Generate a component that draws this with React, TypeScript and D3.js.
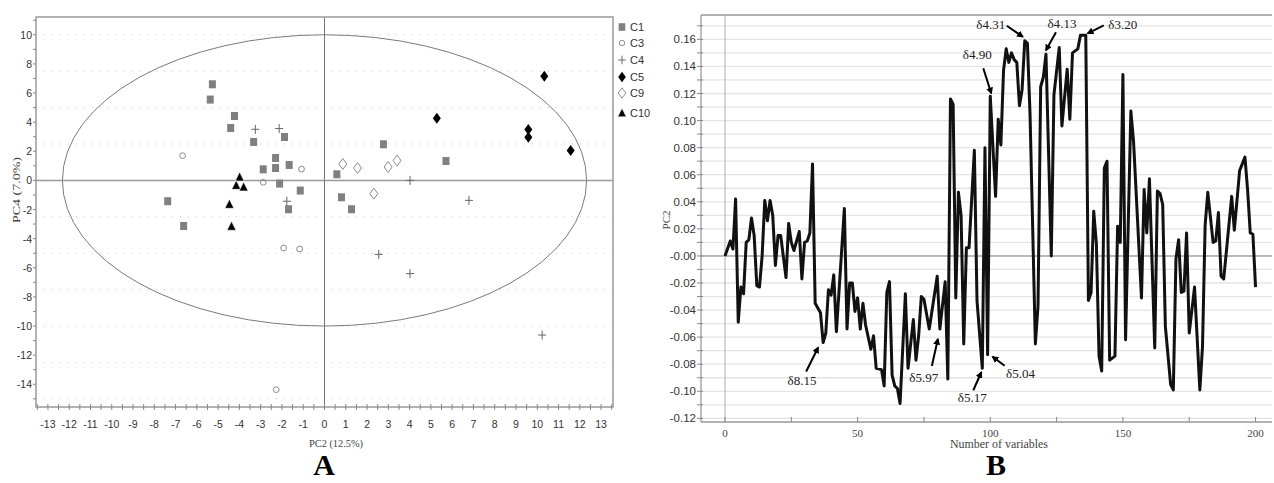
import React, { useEffect, useRef } from "react";
import * as d3 from "d3";

// ---- panel A: PCA scores (PC2 vs PC4) ----
const c1Scores = [
  [-5.27, 6.6], [-5.37, 5.55], [-4.23, 4.42], [-4.41, 3.6], [-3.33, 2.64],
  [-1.88, 2.98], [-2.3, 1.54], [-2.88, 0.76], [-2.3, 0.85], [-1.66, 1.06],
  [-2.11, -0.22], [-1.14, -0.7], [-1.69, -1.98], [-7.37, -1.43], [-6.62, -3.13],
  [2.77, 2.48], [5.71, 1.33], [0.58, 0.42], [0.8, -1.16], [1.27, -1.98],
];
const c3Scores = [[-6.67, 1.7], [-1.08, 0.78], [-2.88, -0.13], [-1.92, -4.64], [-1.17, -4.71], [-2.27, -14.37]];
const c4Scores = [[-3.25, 3.51], [-2.13, 3.56], [-1.77, -1.43], [4.02, 0.0], [6.79, -1.37], [2.55, -5.08], [4.02, -6.4], [10.23, -10.62]];
const c5Scores = [[10.33, 7.15], [5.28, 4.27], [9.58, 3.49], [9.58, 2.96], [11.57, 2.05]];
const c9Scores = [[0.86, 1.13], [1.55, 0.85], [2.99, 0.92], [3.41, 1.36], [2.32, -0.91]];
const c10Scores = [[-3.99, 0.23], [-4.15, -0.34], [-3.8, -0.45], [-4.47, -1.64], [-4.37, -3.15]];
const groupNames = ["C1", "C3", "C4", "C5", "C9", "C10"];
const ellipseRadii = [12.32, 10]; // Hotelling T2 on PC2 / PC4

// ---- panel B: PC2 loadings ----
const variableIndex = [
  0, 2, 3, 4, 5, 6, 7, 8, 9, 10,
  11, 12, 13, 14, 15, 16, 17, 18, 19, 20,
  21, 23, 24, 25, 26, 28, 29, 30, 31, 32,
  33, 34, 36, 37, 38, 39, 40, 41, 42, 45,
  46, 47, 48, 49, 50, 51, 52, 53, 55, 56,
  57, 59, 60, 61, 62, 63, 64, 65, 66, 68,
  69, 71, 72, 73, 74, 75, 77, 80, 81, 83,
  84, 85, 86, 87, 88, 89, 90, 91, 92, 94,
  95, 97, 98, 99, 100, 102, 103, 104, 105, 106,
  107, 108, 109, 110, 111, 112, 113, 114, 115, 117,
  118, 119, 120, 121, 123, 124, 126, 127, 129, 130,
  131, 133, 134, 136, 137, 138, 139, 140, 141, 142,
  143, 144, 145, 147, 148, 149, 150, 151, 153, 154,
  157, 158, 159, 160, 162, 163, 164, 165, 166, 168,
  169, 170, 171, 172, 173, 174, 175, 177, 179, 180,
  181, 182, 184, 185, 186, 187, 188, 191, 192, 194,
  196, 197, 198, 199, 200,
];
const pc2Loading = [
  0.0, 0.011, 0.005, 0.042, -0.049, -0.023, -0.028, 0.01, 0.012, 0.028,
  0.015, -0.022, -0.023, 0.0, 0.041, 0.026, 0.041, 0.03, -0.007, 0.015,
  0.015, -0.016, 0.024, 0.01, 0.004, 0.018, -0.017, 0.01, 0.011, 0.017,
  0.068, -0.035, -0.042, -0.064, -0.057, -0.025, -0.029, -0.014, -0.056, 0.035,
  -0.054, -0.02, -0.02, -0.041, -0.031, -0.054, -0.035, -0.051, -0.069, -0.059,
  -0.083, -0.084, -0.096, -0.027, -0.019, -0.088, -0.096, -0.098, -0.109, -0.028,
  -0.083, -0.047, -0.077, -0.059, -0.03, -0.032, -0.054, -0.015, -0.054, -0.019,
  -0.091, 0.116, 0.112, -0.031, 0.047, 0.03, -0.065, 0.006, 0.006, 0.078,
  -0.033, -0.083, 0.08, -0.073, 0.118, 0.044, 0.101, 0.082, 0.137, 0.153,
  0.143, 0.15, 0.145, 0.143, 0.111, 0.123, 0.159, 0.157, 0.104, -0.065,
  -0.037, 0.125, 0.132, 0.149, 0.0, 0.119, 0.154, 0.096, 0.138, 0.101,
  0.15, 0.153, 0.163, 0.163, -0.033, -0.027, 0.033, 0.009, -0.074, -0.085,
  0.065, 0.07, -0.077, -0.074, 0.022, 0.01, 0.134, -0.062, 0.107, 0.085,
  -0.031, 0.049, 0.017, 0.057, -0.068, 0.048, 0.046, 0.038, -0.052, -0.095,
  -0.099, -0.002, 0.012, -0.027, -0.026, 0.017, -0.057, -0.023, -0.099, -0.067,
  0.023, 0.047, 0.01, 0.011, 0.032, -0.015, -0.017, 0.044, 0.019, 0.063,
  0.073, 0.049, 0.017, 0.016, -0.023,
];
const yTickValues = [0.16, 0.14, 0.12, 0.1, 0.08, 0.06, 0.04, 0.02, 0, -0.02, -0.04, -0.06, -0.08, -0.1, -0.12];
const yTickLabels = ["0.16", "0.14", "0.12", "0.10", "0.08", "0.06", "0.04", "0.02", "-0.00", "-0.02", "-0.04", "-0.06", "-0.08", "-0.10", "-0.12"];
const xTickLabels = [0, 50, 100, 150, 200];

// chemical shift markers pointing at loading peaks
const peakLabels = ["δ8.15", "δ5.97", "δ5.17", "δ5.04", "δ4.90", "δ4.31", "δ4.13", "δ3.20"];
const peakVariables = [37, 81, 97, 99, 100, 113, 121, 136];

const SANS = "'Liberation Sans Narrow', 'Liberation Sans', Arial, sans-serif";
const SERIF = "'Liberation Serif', 'DejaVu Serif', serif";

// offsets (px) of arrow tip, arrow tail and label relative to the marked point
const annoLayout = [
  { tip: [-5, 5], tail: [-17, 29], text: [-21, 42] },
  { tip: [-2, 10], tail: [-8, 37], text: [-16, 53] },
  { tip: [-1, 4], tail: [-9, 22], text: [-10, 34] },
  { tip: [5, 2], tail: [17, 11], text: [33, 23] },
  { tip: [1, -3], tail: [-7, -28], text: [-13, -37] },
  { tip: [-2, -4], tail: [-18, -15], text: [-34, -12] },
  { tip: [0, -4], tail: [10, -22], text: [16, -26] },
  { tip: [2, -2], tail: [18, -10], text: [37, -6] },
];

function markerPath(kind: string) {
  switch (kind) {
    case "C1": return "M-3.5,-4H3.5V4H-3.5Z";
    case "C3": return d3.symbol(d3.symbolCircle, 26)() as string;
    case "C4": return "M-4,0H4M0,-4.5V4.5";
    case "C5":
    case "C9": return "M0,-5.5L4,0L0,5.5L-4,0Z";
    default: return "M0,-5L4.5,4L-4.5,4Z";
  }
}

function styleMarker(sel: any, kind: string) {
  if (kind === "C1") sel.attr("fill", "#808080").attr("stroke", "none");
  else if (kind === "C3") sel.attr("fill", "none").attr("stroke", "#8a8a8a").attr("stroke-width", 1);
  else if (kind === "C4") sel.attr("fill", "none").attr("stroke", "#666").attr("stroke-width", 1);
  else if (kind === "C5") sel.attr("fill", "#000").attr("stroke", "none");
  else if (kind === "C9") sel.attr("fill", "#fff").attr("stroke", "#8a8a8a").attr("stroke-width", 1);
  else sel.attr("fill", "#000").attr("stroke", "#fff").attr("stroke-width", 0.6);
}

function drawScores(svg: any) {
  const x = d3.scaleLinear().domain([-13.56, 13.56]).range([36, 613]);
  const y = d3.scaleLinear().domain([-15.56, 11.22]).range([407, 17]);
  const g = svg.append("g");
  const [x0, x1] = x.range();
  const [y0, y1] = y.range();

  g.selectAll("line.grid")
    .data(d3.range(-15, 10.01, 2.5))
    .join("line")
    .attr("x1", x0).attr("x2", x1)
    .attr("y1", (d: number) => y(d)).attr("y2", (d: number) => y(d))
    .attr("stroke", "#c4c4c4").attr("stroke-dasharray", "1,7");

  g.append("ellipse")
    .attr("cx", x(0)).attr("cy", y(0))
    .attr("rx", x(ellipseRadii[0]) - x(0)).attr("ry", y(0) - y(ellipseRadii[1]))
    .attr("fill", "none").attr("stroke", "#7a7a7a").attr("stroke-width", 1);

  g.append("line").attr("x1", x0).attr("x2", x1).attr("y1", y(0)).attr("y2", y(0))
    .attr("stroke", "#9a9a9a").attr("stroke-width", 1.5);
  g.append("line").attr("x1", x(0)).attr("x2", x(0)).attr("y1", y1).attr("y2", y0)
    .attr("stroke", "#777").attr("stroke-width", 1);

  g.append("rect").attr("x", x0).attr("y", y1).attr("width", x1 - x0).attr("height", y0 - y1)
    .attr("fill", "none").attr("stroke", "#9a9a9a").attr("stroke-width", 1.5);

  // x ticks every 0.5, labels every 1
  g.selectAll("line.xt").data(d3.range(-13.5, 13.51, 0.5)).join("line")
    .attr("x1", (d: number) => x(d)).attr("x2", (d: number) => x(d))
    .attr("y1", y0 - 3).attr("y2", y0 + 3)
    .attr("stroke", "#888").attr("stroke-width", 1);
  g.selectAll("text.xl").data(d3.range(-13, 13.01, 1)).join("text")
    .attr("x", (d: number) => x(d)).attr("y", y0 + 21)
    .attr("text-anchor", "middle").attr("font-family", SANS).attr("font-size", 10.5).attr("fill", "#333")
    .text((d: number) => d);

  // y ticks every 1, labels every 2
  g.selectAll("line.yt").data(d3.range(-15, 11.01, 1)).join("line")
    .attr("x1", x0 - 3).attr("x2", x0)
    .attr("y1", (d: number) => y(d)).attr("y2", (d: number) => y(d))
    .attr("stroke", "#888").attr("stroke-width", 1);
  g.selectAll("text.yl").data(d3.range(-14, 10.01, 2)).join("text")
    .attr("x", x0 - 4).attr("y", (d: number) => y(d) + 4)
    .attr("text-anchor", "end").attr("font-family", SANS).attr("font-size", 10.5).attr("fill", "#333")
    .text((d: number) => d);

  const groups = [c1Scores, c3Scores, c4Scores, c5Scores, c9Scores, c10Scores];
  groups.forEach((pts, i) => {
    const kind = groupNames[i];
    const sel = g.append("g").selectAll("path").data(pts).join("path")
      .attr("d", markerPath(kind))
      .attr("transform", (d: number[]) => `translate(${x(d[0])},${y(d[1])})`);
    styleMarker(sel, kind);
  });

  // legend
  const lg = g.append("g");
  const legendY = [27, 43, 60, 77, 93, 113];
  groupNames.forEach((name, i) => {
    const m = lg.append("path").attr("d", markerPath(name))
      .attr("transform", `translate(622,${legendY[i]}) scale(0.95)`);
    styleMarker(m, name);
    lg.append("text").attr("x", 630).attr("y", legendY[i] + 4)
      .attr("font-family", SANS).attr("font-size", 11).attr("fill", "#333").text(name);
  });

  g.append("text")
    .attr("transform", `translate(20,${190}) rotate(-90)`)
    .attr("text-anchor", "middle").attr("font-family", SERIF).attr("font-size", 11).attr("fill", "#444")
    .attr("textLength", 66).attr("lengthAdjust", "spacingAndGlyphs")
    .text("PC4 (7.0%)");
  g.append("text")
    .attr("x", 336).attr("y", 447)
    .attr("text-anchor", "middle").attr("font-family", SERIF).attr("font-size", 11).attr("fill", "#444")
    .attr("textLength", 54).attr("lengthAdjust", "spacingAndGlyphs")
    .text("PC2 (12.5%)");
  g.append("text")
    .attr("x", 324).attr("y", 475)
    .attr("text-anchor", "middle").attr("font-family", SERIF).attr("font-size", 30).attr("font-weight", "bold").attr("fill", "#000")
    .text("A");
}

function drawLoadings(svg: any) {
  const x = d3.scaleLinear().domain([-9.04, 206.2]).range([701, 1272]);
  const y = d3.scaleLinear().domain([-0.1227, 0.178]).range([422, 15]);
  const g = svg.append("g");
  const [x0, x1] = x.range();
  const [y0, y1] = y.range();

  g.selectAll("line.grid").data(d3.range(-12, 18).map(i => i / 100)).join("line")
    .attr("x1", x0).attr("x2", x1)
    .attr("y1", (d: number) => y(d)).attr("y2", (d: number) => y(d))
    .attr("stroke", "#e4e4e4").attr("stroke-width", 1.3);
  g.append("line").attr("x1", x0).attr("x2", x1).attr("y1", y(0)).attr("y2", y(0))
    .attr("stroke", "#a8a8a8").attr("stroke-width", 1.5);
  g.append("line").attr("x1", x(0)).attr("x2", x(0)).attr("y1", y1).attr("y2", y0)
    .attr("stroke", "#bbb").attr("stroke-width", 1.2);

  g.append("line").attr("x1", x0).attr("x2", x1).attr("y1", y1).attr("y2", y1).attr("stroke", "#999").attr("stroke-width", 1.3);
  g.append("line").attr("x1", x0).attr("x2", x0).attr("y1", y1).attr("y2", y0).attr("stroke", "#999").attr("stroke-width", 1.3);
  g.append("line").attr("x1", x0).attr("x2", x1).attr("y1", y0).attr("y2", y0).attr("stroke", "#999").attr("stroke-width", 1.3);

  g.selectAll("line.yt").data(d3.range(-12, 18).map(i => i / 100)).join("line")
    .attr("x1", x0 - 4).attr("x2", x0 + 2)
    .attr("y1", (d: number) => y(d)).attr("y2", (d: number) => y(d))
    .attr("stroke", "#888");
  g.selectAll("text.yl").data(yTickValues).join("text")
    .attr("x", x0 - 5).attr("y", (d: number) => y(d) + 4)
    .attr("text-anchor", "end").attr("font-family", "'Liberation Sans', Arial, sans-serif").attr("font-size", 11.5).attr("fill", "#333")
    .text((d: number, i: number) => yTickLabels[i]);

  g.selectAll("line.xt").data(d3.range(0, 201, 25)).join("line")
    .attr("x1", (d: number) => x(d)).attr("x2", (d: number) => x(d))
    .attr("y1", y0).attr("y2", y0 - 5)
    .attr("stroke", "#888");
  g.selectAll("text.xl").data(xTickLabels).join("text")
    .attr("x", (d: number) => x(d)).attr("y", y0 + 15)
    .attr("text-anchor", "middle").attr("font-family", SERIF).attr("font-size", 11).attr("fill", "#444")
    .text((d: number) => d);

  const pts = variableIndex.map((v, i) => [v, pc2Loading[i]] as [number, number]);
  g.append("path").datum(pts)
    .attr("d", d3.line<[number, number]>().x(d => x(d[0])).y(d => y(d[1])))
    .attr("fill", "none").attr("stroke", "#111").attr("stroke-width", 3)
    .attr("stroke-linejoin", "round");

  // annotations
  const defs = svg.append("defs");
  defs.append("marker").attr("id", "ah").attr("viewBox", "0 0 10 10")
    .attr("refX", 8).attr("refY", 5).attr("markerWidth", 7).attr("markerHeight", 7)
    .attr("markerUnits", "userSpaceOnUse").attr("orient", "auto")
    .append("path").attr("d", "M0,0L10,5L0,10Z").attr("fill", "#000");

  peakLabels.forEach((label, i) => {
    const k = variableIndex.indexOf(peakVariables[i]);
    const px = x(variableIndex[k]);
    const py = y(pc2Loading[k]);
    const lay = annoLayout[i];
    g.append("line")
      .attr("x1", px + lay.tail[0]).attr("y1", py + lay.tail[1])
      .attr("x2", px + lay.tip[0]).attr("y2", py + lay.tip[1])
      .attr("stroke", "#000").attr("stroke-width", 2).attr("marker-end", "url(#ah)");
    g.append("text")
      .attr("x", px + lay.text[0]).attr("y", py + lay.text[1])
      .attr("text-anchor", "middle").attr("font-family", SERIF).attr("font-size", 11.5).attr("fill", "#222")
      .attr("textLength", 29).attr("lengthAdjust", "spacingAndGlyphs")
      .text(label);
  });

  g.append("text")
    .attr("transform", `translate(670,220) rotate(-90)`)
    .attr("text-anchor", "middle").attr("font-family", SERIF).attr("font-size", 11).attr("fill", "#444")
    .text("PC2");
  g.append("text")
    .attr("x", 999).attr("y", 448)
    .attr("text-anchor", "middle").attr("font-family", SERIF).attr("font-size", 11.5).attr("fill", "#444")
    .attr("textLength", 98).attr("lengthAdjust", "spacingAndGlyphs")
    .text("Number of variables");
  g.append("text")
    .attr("x", 996).attr("y", 475)
    .attr("text-anchor", "middle").attr("font-family", SERIF).attr("font-size", 30).attr("font-weight", "bold").attr("fill", "#000")
    .text("B");
}

export default function App() {
  const ref = useRef<SVGSVGElement>(null);

  useEffect(() => {
    const svg = d3.select(ref.current).html("");
    drawScores(svg);
    drawLoadings(svg);
  }, []);

  return (
    <svg
      ref={ref}
      width={1274}
      height={483}
      style={{ position: "absolute", left: 0, top: 0, background: "#fff" }}
    />
  );
}
